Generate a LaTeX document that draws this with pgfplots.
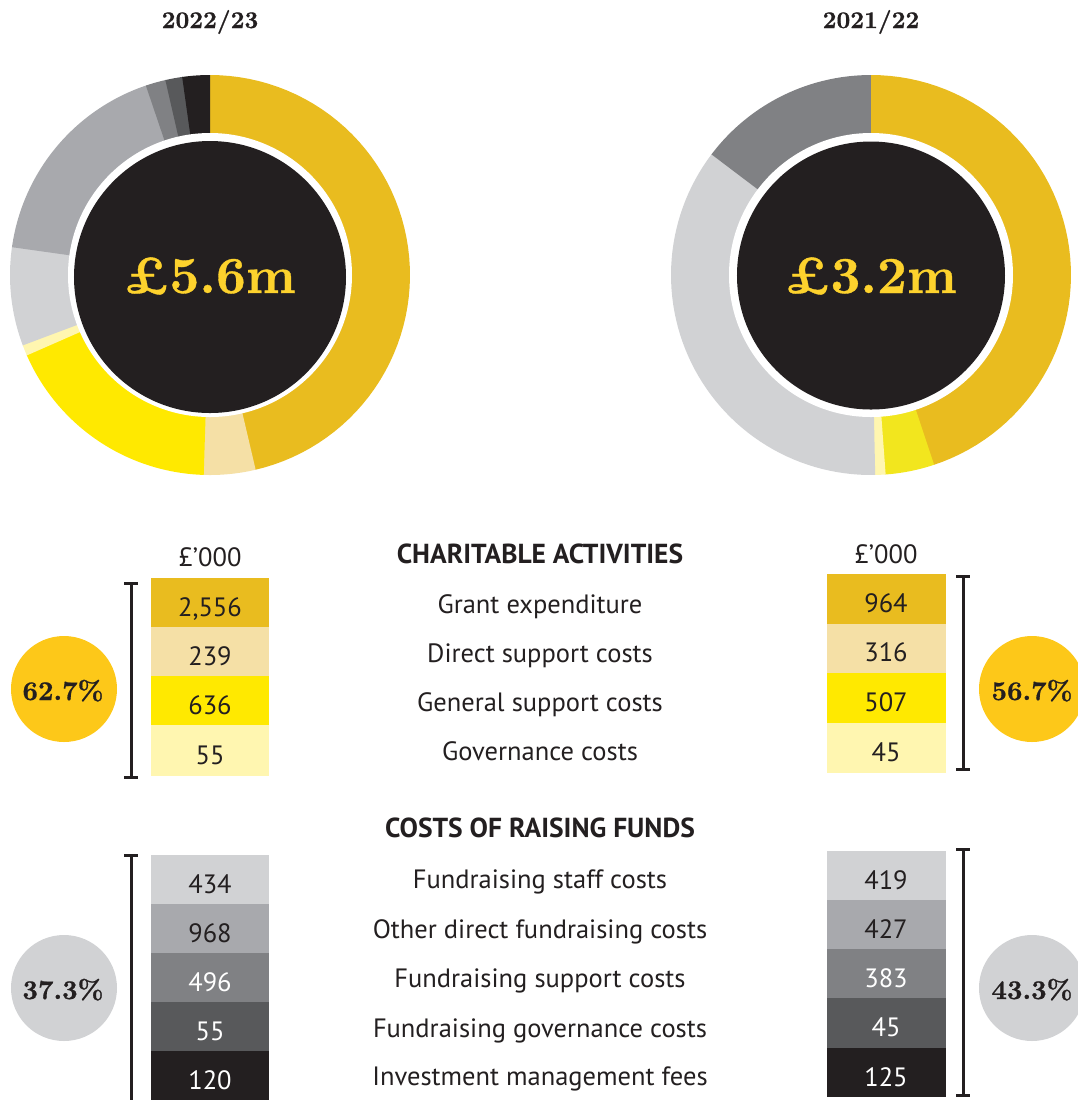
\documentclass[border=0pt]{standalone}
\usepackage{pgfplots}
\pgfplotsset{compat=1.18}
\usepackage{fontspec}
\setsansfont{PT Sans}
\newfontfamily\heavy{lmroman10-bold.otf}[FakeBold=0.7]
\definecolor{cgold}{HTML}{E9BC1F}
\definecolor{cbeige}{HTML}{F5E0A6}
\definecolor{cyellow}{HTML}{FFE900}
\definecolor{cyellowb}{HTML}{F2E61E}
\definecolor{cpale}{HTML}{FFF6B0}
\definecolor{clgrey}{HTML}{D1D2D4}
\definecolor{cgrey}{HTML}{A8A9AD}
\definecolor{cmgrey}{HTML}{808184}
\definecolor{cdgrey}{HTML}{58595B}
\definecolor{cblack}{HTML}{231F20}
\definecolor{ccirc}{HTML}{FDC819}
\definecolor{ctitle}{HTML}{FDD22D}
\newcommand{\lab}{\sffamily\fontsize{26.5bp}{30bp}\selectfont}
\newcommand{\head}{\sffamily\bfseries\fontsize{27.5bp}{30bp}\selectfont}
\newcommand{\pct}{\heavy\fontsize{27bp}{32bp}\selectfont}
\newcommand{\q}{\char39\relax}
% slice(start angle, end angle, colour, centre x, centre y)
\newcommand{\slice}[5]{\addplot[fill=#3, draw=none, domain=#1:#2, samples=60] ({#4+200*sin(x)},{#5-200*cos(x)}) -- (axis cs:#4,#5) -- cycle;}
\newcommand{\txt}[4]{\node[anchor=base, text=#1, font=#2] at (axis cs:#3) {#4};}
\begin{document}
\begin{tikzpicture}
\begin{axis}[scale only axis, width=1078bp, height=1100bp,
  xmin=0, xmax=1078, ymin=0, ymax=1100, y dir=reverse,
  hide axis, clip=false, at={(0,0)}, anchor=south west]
% ---------- donut 2022/23 (slice bounds in degrees, clockwise from top)
\slice{0}{167}{cgold}{210}{275}
\slice{166.8}{182}{cbeige}{210}{275}
\slice{181.8}{246.5}{cyellow}{210}{275}
\slice{246.3}{249.6}{cpale}{210}{275}
\slice{249.4}{278.2}{clgrey}{210}{275}
\slice{278}{341.5}{cgrey}{210}{275}
\slice{341.3}{347.3}{cmgrey}{210}{275}
\slice{347.1}{352.2}{cdgrey}{210}{275}
\slice{352}{360}{cblack}{210}{275}
\fill[white] (axis cs:210,275) circle[radius=142bp];
\fill[cblack] (axis cs:210,277) circle[radius=136bp];
% ---------- donut 2021/22
\slice{0}{161.8}{cgold}{871}{275}
\slice{161.6}{176}{cyellowb}{871}{275}
\slice{175.8}{179}{cpale}{871}{275}
\slice{178.8}{307.3}{clgrey}{871}{275}
\slice{307.1}{360}{cmgrey}{871}{275}
\fill[white] (axis cs:871,275) circle[radius=142bp];
\fill[cblack] (axis cs:871,275.5) circle[radius=134bp];
% titles and totals
\txt{cblack}{\heavy\fontsize{24bp}{28bp}\selectfont}{210,28}{2022/23}
\txt{cblack}{\heavy\fontsize{24bp}{28bp}\selectfont}{871,28}{2021/22}
\txt{ctitle}{\heavy\fontsize{52bp}{60bp}\selectfont}{210,293}{£5.6m}
\txt{ctitle}{\heavy\fontsize{52bp}{60bp}\selectfont}{871,293}{£3.2m}
% ---------- charitable activities
\txt{cblack}{\lab}{210,566}{£\q000}
\txt{cblack}{\lab}{886,563}{£\q000}
\txt{cblack}{\head}{540,563}{CHARITABLE ACTIVITIES}
\fill[cgold]   (axis cs:151,578) rectangle (axis cs:269,627);
\fill[cbeige]  (axis cs:151,627) rectangle (axis cs:269,676);
\fill[cyellow] (axis cs:151,676) rectangle (axis cs:269,725);
\fill[cpale]   (axis cs:151,725) rectangle (axis cs:269,776);
\fill[cgold]   (axis cs:827,574) rectangle (axis cs:946,623.5);
\fill[cbeige]  (axis cs:827,623.5) rectangle (axis cs:946,672.5);
\fill[cyellow] (axis cs:827,672.5) rectangle (axis cs:946,722.5);
\fill[cpale]   (axis cs:827,722.5) rectangle (axis cs:946,773);
\txt{cblack}{\lab}{210,616}{2,556}
\txt{cblack}{\lab}{210,665}{239}
\txt{cblack}{\lab}{210,714}{636}
\txt{cblack}{\lab}{210,764}{55}
\txt{cblack}{\lab}{886,612}{964}
\txt{cblack}{\lab}{886,661}{316}
\txt{cblack}{\lab}{886,711}{507}
\txt{cblack}{\lab}{886,761}{45}
\txt{cblack}{\lab}{540,613}{Grant expenditure}
\txt{cblack}{\lab}{540,662}{Direct support costs}
\txt{cblack}{\lab}{540,711}{General support costs}
\txt{cblack}{\lab}{540,760}{Governance costs}
% brackets
\draw[cblack, line width=3bp] (axis cs:131,583) -- (axis cs:131,777);
\draw[cblack, line width=3bp] (axis cs:124,583) -- (axis cs:138,583);
\draw[cblack, line width=3bp] (axis cs:124,777) -- (axis cs:138,777);
\draw[cblack, line width=3bp] (axis cs:963,576) -- (axis cs:963,769);
\draw[cblack, line width=3bp] (axis cs:956,576) -- (axis cs:970,576);
\draw[cblack, line width=3bp] (axis cs:956,769) -- (axis cs:970,769);
\fill[ccirc] (axis cs:64,689) circle[radius=53bp];
\fill[ccirc] (axis cs:1032,689) circle[radius=53bp];
\txt{cblack}{\pct}{63,700}{62.7\%}
\txt{cblack}{\pct}{1032,700}{56.7\%}
% ---------- costs of raising funds
\txt{cblack}{\head}{540,837}{COSTS OF RAISING FUNDS}
\fill[clgrey] (axis cs:151,855) rectangle (axis cs:269,904);
\fill[cgrey]  (axis cs:151,904) rectangle (axis cs:269,953);
\fill[cmgrey] (axis cs:151,953) rectangle (axis cs:269,1002);
\fill[cdgrey] (axis cs:151,1002) rectangle (axis cs:269,1051);
\fill[cblack] (axis cs:151,1051) rectangle (axis cs:269,1100);
\fill[clgrey] (axis cs:827,851) rectangle (axis cs:946,900);
\fill[cgrey]  (axis cs:827,900) rectangle (axis cs:946,949);
\fill[cmgrey] (axis cs:827,949) rectangle (axis cs:946,998);
\fill[cdgrey] (axis cs:827,998) rectangle (axis cs:946,1048);
\fill[cblack] (axis cs:827,1048) rectangle (axis cs:946,1097);
\txt{cblack}{\lab}{210,893}{434}
\txt{cblack}{\lab}{210,942}{968}
\txt{white}{\lab}{210,991}{496}
\txt{white}{\lab}{210,1040}{55}
\txt{white}{\lab}{210,1089}{120}
\txt{cblack}{\lab}{886,889}{419}
\txt{cblack}{\lab}{886,938}{427}
\txt{white}{\lab}{886,987}{383}
\txt{white}{\lab}{886,1036}{45}
\txt{white}{\lab}{886,1086}{125}
\txt{cblack}{\lab}{540,888}{Fundraising staff costs}
\txt{cblack}{\lab}{540,938}{Other direct fundraising costs}
\txt{cblack}{\lab}{540,987}{Fundraising support costs}
\txt{cblack}{\lab}{540,1037}{Fundraising governance costs}
\txt{cblack}{\lab}{540,1085}{Investment management fees}
\draw[cblack, line width=3bp] (axis cs:131,855) -- (axis cs:131,1102);
\draw[cblack, line width=3bp] (axis cs:124,855) -- (axis cs:138,855);
\draw[cblack, line width=3bp] (axis cs:963,849) -- (axis cs:963,1095);
\draw[cblack, line width=3bp] (axis cs:956,849) -- (axis cs:970,849);
\draw[cblack, line width=3bp] (axis cs:956,1095) -- (axis cs:970,1095);
\fill[clgrey] (axis cs:64,988) circle[radius=53bp];
\fill[clgrey] (axis cs:1032,988) circle[radius=53bp];
\txt{cblack}{\pct}{63,999}{37.3\%}
\txt{cblack}{\pct}{1032,999}{43.3\%}
\end{axis}
\pgfresetboundingbox
\path[use as bounding box] (0,0) rectangle (1078bp,1100bp);
\end{tikzpicture}
\end{document}
